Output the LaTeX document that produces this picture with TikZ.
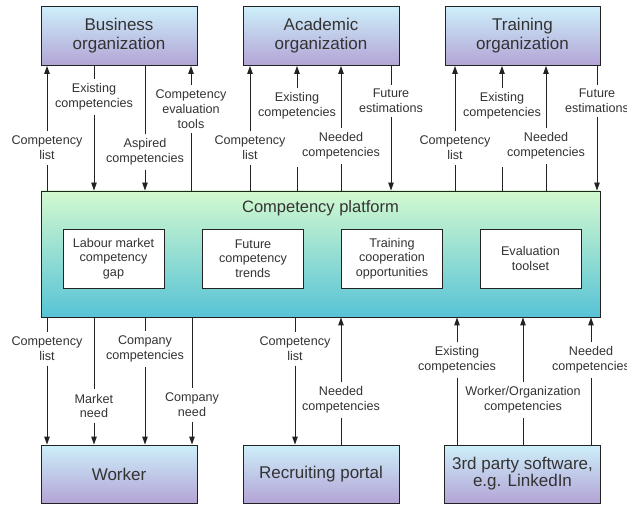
\documentclass[tikz,border=0pt]{standalone}
\usepackage{fontspec}
\setmainfont{Liberation Sans}
\usetikzlibrary{arrows.meta}
\definecolor{boxtop}{HTML}{CDEFFA}
\definecolor{boxbot}{HTML}{B3A4D6}
\definecolor{plattop}{HTML}{D3F9CF}
\definecolor{platbot}{HTML}{57C3D6}
\definecolor{ink}{HTML}{222222}
\definecolor{txt}{HTML}{333333}
\begin{document}
\begin{tikzpicture}[x=1pt,y=-1pt,
  entity/.style={draw=ink, line width=0.9pt, top color=boxtop, bottom color=boxbot,
    minimum width=156pt, minimum height=59pt, align=center, text=txt,
    font=\fontsize{17}{19}\selectfont, inner sep=0pt},
  platbox/.style={draw=ink, line width=0.9pt, top color=plattop, bottom color=platbot,
    minimum width=559pt, minimum height=126pt, inner sep=0pt},
  module/.style={draw=ink, line width=0.9pt, fill=white, minimum width=101pt,
    minimum height=59pt, align=center, text=txt,
    font=\fontsize{12.6}{14.5}\selectfont, inner sep=0pt},
  lbl/.style={align=center, text=txt, font=\fontsize{12.6}{14.8}\selectfont,
    inner xsep=0pt, inner ysep=4.5pt},
  ln/.style={draw=ink, line width=0.9pt},
  arr/.style={ln, -{Triangle[width=5.5pt,length=8pt]}}
]
\useasboundingbox (0,0) rectangle (627,505);

% boxes
\node[entity] (bus) at (119,36) {Business\\organization};
\node[entity] (aca) at (321,36) {Academic\\organization};
\node[entity, minimum width=155pt] (tra) at (522.5,36) {Training\\organization};
\node[platbox] (plat) at (320.5,254) {};
\node[font=\fontsize{16.5}{19}\selectfont, text=txt] (ptitle) at (320.5,208) {Competency platform};
\node[module] (gapm) at (113.5,258.5) {Labour market\\competency\\gap};
\node[module] (trend) at (253,258.5) {Future\\competency\\trends};
\node[module] (coop) at (392,258.5) {Training\\cooperation\\opportunities};
\node[module] (evalm) at (530.5,258.5) {Evaluation\\toolset};
\node[entity, minimum height=58pt] (wor) at (119,474) {Worker};
\node[entity, minimum height=58pt] (rec) at (321,474) {Recruiting portal};
\node[entity, minimum height=58pt, minimum width=156pt, font=\fontsize{17}{17}\selectfont] (soft) at (522.5,474) {3rd party software,\\e.g. LinkedIn};

% top labels
\node[lbl] (B1) at (47,148) {Competency\\list};
\node[lbl] (B2) at (94,97) {Existing\\competencies};
\node[lbl] (B3) at (145,152) {Aspired\\competencies};
\node[lbl] (B4) at (191,109) {Competency\\evaluation\\tools};
\node[lbl] (A1) at (250,148) {Competency\\list};
\node[lbl] (A2) at (297,106) {Existing\\competencies};
\node[lbl] (A3) at (341,146) {Needed\\competencies};
\node[lbl] (A4) at (391,101) {Future\\estimations};
\node[lbl] (T1) at (455,148) {Competency\\list};
\node[lbl] (T2) at (502,106) {Existing\\competencies};
\node[lbl] (T3) at (546,146) {Needed\\competencies};
\node[lbl] (T4) at (597,101) {Future\\estimations};
\coordinate (A2g) at (297,167);
\coordinate (T2g) at (502,167);

% bottom labels
\node[lbl] (W1) at (47,349) {Competency\\list};
\node[lbl] (W2) at (94,406) {Market\\need};
\node[lbl] (W3) at (145,349) {Company\\competencies};
\node[lbl] (W4) at (192,405) {Company\\need};
\node[lbl] (R1) at (295,349) {Competency\\list};
\node[lbl] (R2) at (341,400) {Needed\\competencies};
\node[lbl] (S1) at (457,360) {Existing\\competencies};
\node[lbl] (S2) at (523,400) {Worker/Organization\\competencies};
\node[lbl] (S3) at (591,360) {Needed\\competencies};

% top connectors: up to organisations
\foreach \l/\b in {B1/bus,B4/bus,A1/aca,A3/aca,T1/tra,T3/tra}{
  \draw[ln] (\l |- plat.north) -- (\l.south);
  \draw[arr] (\l.north) -- (\l |- \b.south);
}
\draw[ln] (A2 |- plat.north) -- (A2g);
\draw[arr] (A2.north) -- (A2 |- aca.south);
\draw[ln] (T2 |- plat.north) -- (T2g);
\draw[arr] (T2.north) -- (T2 |- tra.south);
% top connectors: down to platform
\foreach \l/\b in {B2/bus,B3/bus,A4/aca,T4/tra}{
  \draw[ln] (\l |- \b.south) -- (\l.north);
  \draw[arr] (\l.south) -- (\l |- plat.north);
}
% bottom connectors: down from platform
\foreach \l/\b in {W1/wor,W2/wor,W3/wor,W4/wor,R1/rec}{
  \draw[ln] (\l |- plat.south) -- (\l.north);
  \draw[arr] (\l.south) -- (\l |- \b.north);
}
% bottom connectors: up to platform
\foreach \l/\b in {R2/rec,S1/soft,S2/soft,S3/soft}{
  \draw[ln] (\l |- \b.north) -- (\l.south);
  \draw[arr] (\l.north) -- (\l |- plat.south);
}
\end{tikzpicture}
\end{document}
